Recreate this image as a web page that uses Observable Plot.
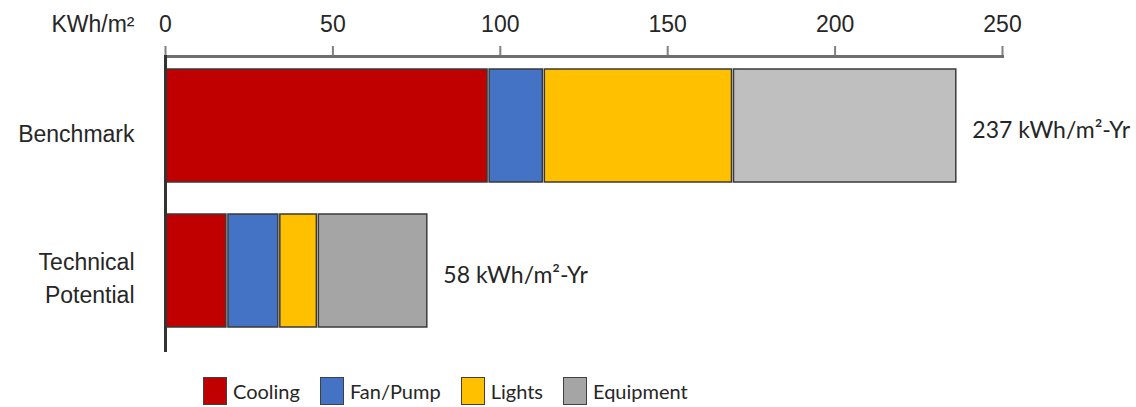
<!DOCTYPE html>
<html>
<head>
<meta charset="utf-8">
<script src="https://cdn.jsdelivr.net/npm/d3@7"></script>
<script src="https://cdn.jsdelivr.net/npm/@observablehq/plot@0.6"></script>
<style>
  html, body { margin: 0; padding: 0; background: #fff; }
  #wrap { width: 1136px; height: 407px; position: relative; overflow: hidden; }
  #legend { position: absolute; left: 203px; top: 377px; display: flex; align-items: center;
    font-family: Lato, "Open Sans", sans-serif; font-size: 20px; color: #262626; }
  .item { display: flex; align-items: center; margin-right: 20px; }
  .sw { width: 22px; height: 26px; border: 1.5px solid #404040; margin-right: 6px; box-sizing: content-box; }
</style>
</head>
<body>
<div id="wrap"><div id="chart"></div><div id="legend"></div></div>
<script>
// ---- data ----
const categories = ["Cooling", "Fan/Pump", "Lights", "Equipment"];
const rows = ["Benchmark", "Technical Potential"];
const benchmarkValues = [96.5, 16.5, 56.5, 67];
const technicalValues = [18.5, 15.5, 11.5, 33];
const benchmarkColors = ["#c00000", "#4472c4", "#ffc000", "#bfbfbf"];
const technicalColors = ["#c00000", "#4472c4", "#ffc000", "#a5a5a5"];
const legendColors = ["#c00000", "#4472c4", "#ffc000", "#a5a5a5"];
const totalLabels = ["237 kWh/m²-Yr", "58 kWh/m²-Yr"];
const xTicks = [0, 50, 100, 150, 200, 250];
const unitLabel = "KWh/m²";

// ---- build table ----
const records = [];
categories.forEach((c, i) => records.push({row: rows[0], category: c, value: benchmarkValues[i], color: benchmarkColors[i]}));
categories.forEach((c, i) => records.push({row: rows[1], category: c, value: technicalValues[i], color: technicalColors[i]}));
const totals = [
  {row: rows[0], total: d3.sum(benchmarkValues), label: totalLabels[0]},
  {row: rows[1], total: d3.sum(technicalValues), label: totalLabels[1]}
];

const sans = "'Liberation Sans', Arial, sans-serif";

const chart = Plot.plot({
  width: 1136,
  height: 360,
  marginLeft: 165,
  marginRight: 134,
  marginTop: 56,
  marginBottom: 10,
  style: {background: "#fff", color: "#262626", overflow: "visible"},
  x: {domain: [0, 250]},
  y: {domain: rows, range: [68, 328], paddingInner: 0.219, paddingOuter: 0},
  color: {type: "identity"},
  marks: [
    Plot.axisX({anchor: "top", ticks: xTicks, tickSize: 11, tickPadding: 14, stroke: "#808080", strokeWidth: 2,
      fontSize: 23, fontFamily: sans, fill: "#262626", label: null}),
    Plot.frame({anchor: "top", stroke: "#6e6e6e", strokeWidth: 3}),
    Plot.axisY({tickSize: 0, tickPadding: 31, fontSize: 23, fontFamily: sans, fill: "#262626",
      lineHeight: 1.45, dy: 5, label: null,
      tickFormat: d => d === "Technical Potential" ? "Technical\nPotential" : d}),
    Plot.barX(records, Plot.stackX({y: "row", x: "value", z: "category", order: null, fill: "color",
      stroke: "#3a3a3a", strokeWidth: 1.5, insetLeft: 1, insetRight: 1})),
    Plot.frame({anchor: "left", stroke: "#333", strokeWidth: 3}),
    Plot.text(totals, {x: "total", y: "row", text: "label", textAnchor: "start", dx: 15, dy: 5,
      fontSize: 23, fontFamily: "Lato, 'Open Sans', sans-serif", fill: "#262626"}),
    Plot.text([unitLabel], {x: 0, frameAnchor: "top", text: d => d, textAnchor: "end", dx: -31, dy: -41,
      fontSize: 23, fontFamily: sans, fill: "#262626"})
  ]
});
document.getElementById("chart").appendChild(chart);

// ---- legend ----
const legend = d3.select("#legend");
categories.forEach((c, i) => {
  const item = legend.append("div").attr("class", "item");
  item.append("div").attr("class", "sw").style("background", legendColors[i]);
  item.append("span").text(c);
});
</script>
</body>
</html>
